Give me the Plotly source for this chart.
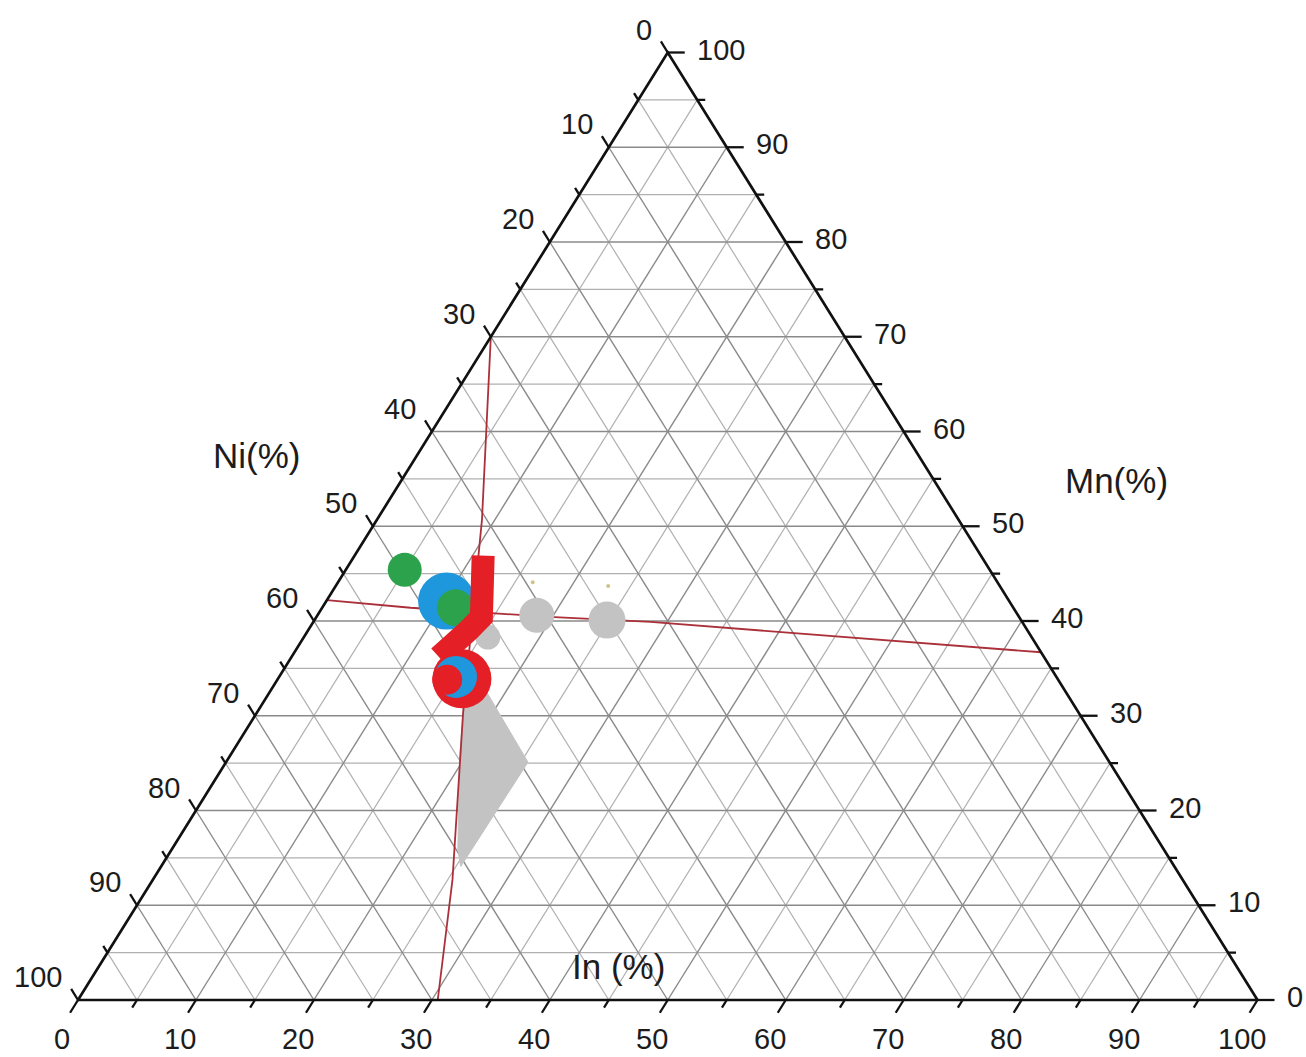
import plotly.graph_objects as go

# ---- composition data (at.%), each point given as In / Mn / Ni ----
# thick red composition path (upper branch)
red_path_in = [10.9, 13.5, 14.0, 13.6, 12.9, 12.5]
red_path_mn = [46.9, 41.9, 40.4, 39.0, 37.6, 36.2]
red_path_ni = [42.2, 44.6, 45.6, 47.4, 49.5, 51.3]

# red loop (outer ring and inner core)
red_loop_in = [15.6, 14.4]
red_loop_mn = [33.9, 33.8]
red_loop_ni = [50.5, 51.8]

# blue samples
blue_in = [10.2, 15.0]
blue_mn = [42.1, 34.1]
blue_ni = [47.7, 50.9]

# green samples
green_in = [5.0, 11.3]
green_mn = [45.4, 41.4]
green_ni = [49.6, 47.3]

# grey samples
grey_in = [15.6, 18.6, 24.8]
grey_mn = [38.3, 40.6, 40.1]
grey_ni = [46.1, 40.8, 35.1]

# faint trace samples
trace_in = [16.5, 23.1]
trace_mn = [44.1, 43.7]
trace_ni = [39.4, 33.2]

# grey composition field (polygon outline)
field_in = [17.0, 18.4, 25.6, 25.4, 24.3, 19.7]
field_mn = [31.4, 32.5, 25.1, 14.1, 15.8, 25.3]
field_ni = [51.6, 49.1, 49.3, 60.5, 59.9, 55.0]

# section lines
line_a_in = [0.0, 8.9, 17.5, 25.4, 30.5]
line_a_mn = [70.0, 50.7, 30.3, 12.7, 0.0]
line_a_ni = [30.0, 40.4, 52.2, 61.9, 69.5]

line_b_in = [0.0, 7.5, 20.2, 28.6, 63.3]
line_b_mn = [42.2, 41.4, 40.4, 39.9, 36.7]
line_b_ni = [57.8, 51.1, 39.4, 31.5, 0.0]

# axis ticks and labels
tick_values = list(range(0, 101, 5))
label_values = list(range(0, 101, 10))

# ---- geometry of the drawing area ----
W, H = 1306, 1057
X0, Y0 = 78.0, 1000.0      # pixel position of the In=0/Mn=0 corner
PX_X = 11.795              # pixels per unit along x
PX_Y = 9.475               # pixels per unit along y

RED = "#e41f26"
BLUE = "#1f97dc"
GREEN = "#2ba24b"
GREY = "#c3c3c3"
LINE_RED = "rgb(170,48,58)"
TXT = "#1c1c1c"
FONT = "Arial, Liberation Sans, sans-serif"


def to_xy(a_in, a_mn, a_ni):
    xs, ys = [], []
    for i, m, n in zip(a_in, a_mn, a_ni):
        t = i + m + n
        xs.append((i + m / 2.0) / t * 100.0)
        ys.append(m / t * 100.0)
    return xs, ys


def px_to_data(dx, dy):
    return dx / PX_X, -dy / PX_Y


fig = go.Figure()

# ---- grid ----
def grid_segments(levels):
    xs, ys = [], []
    for k in levels:
        for a, b in (
            ((0, k, 100 - k), (100 - k, k, 0)),      # constant Mn
            ((k, 0, 100 - k), (k, 100 - k, 0)),      # constant In
            ((0, 100 - k, k), (100 - k, 0, k)),      # constant Ni
        ):
            sx, sy = to_xy([a[0], b[0]], [a[1], b[1]], [a[2], b[2]])
            xs += sx + [None]
            ys += sy + [None]
    return xs, ys

minor_levels = [k for k in tick_values if 0 < k < 100 and k % 10 != 0]
major_levels = [k for k in tick_values if 0 < k < 100 and k % 10 == 0]
gx, gy = grid_segments(minor_levels)
fig.add_trace(go.Scatter(x=gx, y=gy, mode="lines", line=dict(color="#b0b0b0", width=1.2),
                         hoverinfo="skip", showlegend=False))
gx, gy = grid_segments(major_levels)
fig.add_trace(go.Scatter(x=gx, y=gy, mode="lines", line=dict(color="#8a8a8a", width=1.4),
                         hoverinfo="skip", showlegend=False))

# ---- grey composition field ----
fx, fy = to_xy(field_in, field_mn, field_ni)
fig.add_trace(go.Scatter(x=fx + fx[:1], y=fy + fy[:1], mode="lines", fill="toself",
                         fillcolor=GREY, line=dict(color=GREY, width=1),
                         hoverinfo="skip", showlegend=False))

# ---- section lines ----
for li, lm, ln in ((line_a_in, line_a_mn, line_a_ni), (line_b_in, line_b_mn, line_b_ni)):
    lx, ly = to_xy(li, lm, ln)
    fig.add_trace(go.Scatter(x=lx, y=ly, mode="lines", line=dict(color=LINE_RED, width=1.8),
                             hoverinfo="skip", showlegend=False))

# ---- samples ----
def markers(a_in, a_mn, a_ni, color, sizes):
    mx, my = to_xy(a_in, a_mn, a_ni)
    fig.add_trace(go.Scatter(x=mx, y=my, mode="markers",
                             marker=dict(color=color, size=sizes, line=dict(width=0), opacity=1),
                             hoverinfo="skip", showlegend=False))

markers(trace_in, trace_mn, trace_ni, "#cfc48a", [4, 4])
markers(grey_in, grey_mn, grey_ni, GREY, [25, 35, 37])
markers(green_in[:1], green_mn[:1], green_ni[:1], GREEN, [34])
markers(blue_in[:1], blue_mn[:1], blue_ni[:1], BLUE, [57])
markers(green_in[1:], green_mn[1:], green_ni[1:], GREEN, [37])

rx, ry = to_xy(red_path_in, red_path_mn, red_path_ni)
fig.add_trace(go.Scatter(x=rx, y=ry, mode="lines",
                         line=dict(color=RED, width=23),
                         hoverinfo="skip", showlegend=False))
markers(red_loop_in[:1], red_loop_mn[:1], red_loop_ni[:1], RED, [59])
markers(blue_in[1:], blue_mn[1:], blue_ni[1:], BLUE, [42])
markers(red_loop_in[1:], red_loop_mn[1:], red_loop_ni[1:], RED, [30])

# ---- triangle frame ----
cx, cy = to_xy([0, 100, 0, 0], [0, 0, 100, 0], [100, 0, 0, 100])
fig.add_trace(go.Scatter(x=cx, y=cy, mode="lines", line=dict(color="#111111", width=2.7),
                         hoverinfo="skip", showlegend=False))

# ---- ticks ----
tx, ty = [], []
for k in tick_values:
    major = k % 10 == 0
    # In axis (bottom), ticks point down-left
    bx, by = to_xy([k], [0], [100 - k])
    L = 15 if major else 9
    du, dv = px_to_data(-0.528 * L, 0.849 * L)
    tx += [bx[0], bx[0] + du, None]
    ty += [by[0], by[0] + dv, None]
    # Ni axis (left), ticks point up-left
    lx_, ly_ = to_xy([0], [100 - k], [k])
    L = 13 if major else 8
    du, dv = px_to_data(-0.528 * L, -0.849 * L)
    tx += [lx_[0], lx_[0] + du, None]
    ty += [ly_[0], ly_[0] + dv, None]
    # Mn axis (right), ticks point right
    rx_, ry_ = to_xy([100 - k], [k], [0])
    L = 17 if major else 8
    du, dv = px_to_data(L, 0)
    tx += [rx_[0], rx_[0] + du, None]
    ty += [ry_[0], ry_[0] + dv, None]
fig.add_trace(go.Scatter(x=tx, y=ty, mode="lines", line=dict(color="#111111", width=2.3),
                         hoverinfo="skip", showlegend=False))

# ---- tick labels ----
ann = []
for k in label_values:
    bx, by = to_xy([k], [0], [100 - k])
    ann.append(dict(x=bx[0], y=by[0], xref="x", yref="y", text=str(k), showarrow=False,
                    xanchor="center", yanchor="middle", xshift=-16, yshift=-39,
                    font=dict(size=29, color=TXT, family=FONT)))
    lx_, ly_ = to_xy([0], [100 - k], [k])
    ann.append(dict(x=lx_[0], y=ly_[0], xref="x", yref="y", text=str(k), showarrow=False,
                    xanchor="right", yanchor="middle", xshift=-14, yshift=23,
                    font=dict(size=29, color=TXT, family=FONT)))
    rx_, ry_ = to_xy([100 - k], [k], [0])
    ann.append(dict(x=rx_[0], y=ry_[0], xref="x", yref="y", text=str(k), showarrow=False,
                    xanchor="left", yanchor="middle", xshift=27, yshift=3,
                    font=dict(size=29, color=TXT, family=FONT)))

# ---- axis titles ----
for text, px, py in (("Ni(%)", 256, 455), ("Mn(%)", 1116, 481), ("In (%)", 618, 966)):
    ann.append(dict(x=px / W, y=1 - py / H, xref="paper", yref="paper", text=text,
                    showarrow=False, xanchor="center", yanchor="middle",
                    font=dict(size=35, color=TXT, family=FONT)))

fig.update_layout(
    width=W, height=H, autosize=False,
    margin=dict(l=0, r=0, t=0, b=0, pad=0),
    paper_bgcolor="white", plot_bgcolor="white",
    xaxis=dict(range=[-X0 / PX_X, (W - X0) / PX_X], visible=False, fixedrange=True),
    yaxis=dict(range=[(Y0 - H) / PX_Y, Y0 / PX_Y], visible=False, fixedrange=True),
    annotations=ann,
    showlegend=False,
)

fig.write_html("out.html")
